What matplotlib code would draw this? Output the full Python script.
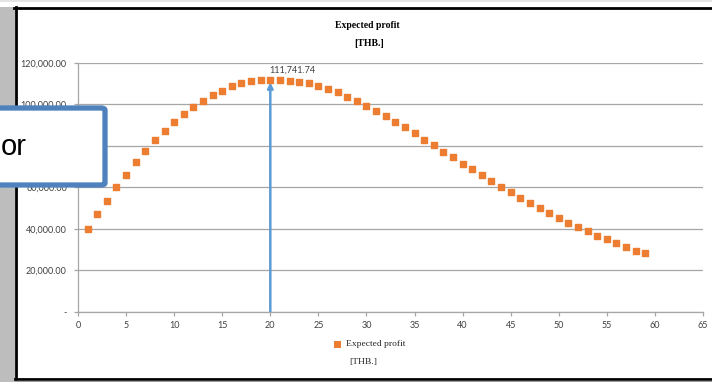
import matplotlib
matplotlib.use("Agg")
import matplotlib.pyplot as plt
from matplotlib.patches import Rectangle, FancyBboxPatch
from matplotlib.lines import Line2D
from matplotlib.ticker import FuncFormatter

# expected profit per order quantity
quantity = list(range(1, 60))
profit = [39800, 47000, 53500, 60000, 66100, 72000, 77500, 82600, 87100, 91400,
          95300, 98600, 101700, 104400, 106600, 108600, 110000, 111000, 111600, 111741.74,
          111600, 111300, 110900, 110000, 109000, 107300, 105700, 103600, 101500, 99100,
          96700, 94300, 91400, 88900, 86200, 82900, 80200, 77200, 74400, 71200,
          68700, 65800, 63100, 60300, 57600, 54900, 52500, 50100, 47700, 45300,
          42900, 40800, 38800, 36800, 35000, 33100, 31300, 29600, 28300]
peak_q = 20
peak_label = "111,741.74"
x_ticks = list(range(0, 70, 5))
y_ticks = [0, 20000, 40000, 60000, 80000, 100000, 120000]

W, H = 712, 382
fig = plt.figure(figsize=(W / 100, H / 100), dpi=100)


def fx(px):
    return px / W


def fy(py):
    return 1 - py / H


# screenshot surroundings
fig.add_artist(Rectangle((0, fy(2)), 1, fy(0) - fy(2), transform=fig.transFigure,
                         color="#e4e4e4", lw=0))
fig.add_artist(Rectangle((0, 0), fx(15), fy(7), transform=fig.transFigure,
                         color="#bdbdbd", lw=0))
fig.add_artist(Line2D([fx(14), 1], [fy(7.5), fy(7.5)], transform=fig.transFigure,
                      color="black", lw=2.0))
fig.add_artist(Line2D([fx(16), fx(16)], [fy(7), fy(379)], transform=fig.transFigure,
                      color="black", lw=2.0))
fig.add_artist(Line2D([fx(15), 1], [fy(378.5), fy(378.5)], transform=fig.transFigure,
                      color="black", lw=2.0))
fig.add_artist(Line2D([fx(15), 1], [fy(381), fy(381)], transform=fig.transFigure,
                      color="#9a9a9a", lw=1.0))

ax = fig.add_axes([fx(78), fy(312), fx(703) - fx(78), fy(62.7) - fy(312)])
ax.scatter(quantity, profit, marker="s", s=17, color="#ed7d31", zorder=3,
           label="Expected profit\n\n[THB.]")

ax.set_xlim(0, 65)
ax.set_ylim(0, 120000)
ax.set_xticks(x_ticks)
ax.set_yticks(y_ticks)
ax.yaxis.set_major_formatter(FuncFormatter(lambda v, p: "-" if v == 0 else f"{v:,.2f}"))
ax.grid(axis="y", color="#a6a6a6", lw=0.9)
ax.set_axisbelow(True)
for s in ["top", "right"]:
    ax.spines[s].set_visible(False)
for s in ["left", "bottom"]:
    ax.spines[s].set_color("#a6a6a6")
    ax.spines[s].set_linewidth(0.9)
ax.tick_params(axis="both", colors="#a6a6a6", labelcolor="#404040", labelsize=6.5,
               length=3, width=0.9)
ax.tick_params(axis="y", pad=5)
for lab in ax.get_xticklabels() + ax.get_yticklabels():
    lab.set_family("Lato")

# peak arrow and label
ax.annotate("", xy=(peak_q, 110500), xytext=(peak_q, 0),
            arrowprops=dict(arrowstyle="-|>", color="#5b9bd5", lw=1.8,
                            mutation_scale=8, shrinkA=0, shrinkB=0), zorder=2)
ax.text(peak_q - 0.1, 114200, peak_label, ha="left", va="bottom", fontsize=6.5,
        color="#404040", family="Lato")

# title
fig.text(fx(367), fy(25), "Expected profit", ha="center", va="center",
         fontsize=7, fontweight="bold", family="Liberation Serif")
fig.text(fx(369), fy(44), "[THB.]", ha="center", va="center",
         fontsize=7, fontweight="bold", family="Liberation Serif")

# legend
fig.add_artist(Rectangle((fx(334), fy(347.5)), fx(7), fy(340.5) - fy(347.5),
                         transform=fig.transFigure, color="#ed7d31", lw=0))
fig.text(fx(346), fy(344), "Expected profit", ha="left", va="center",
         fontsize=6.8, family="Liberation Serif", color="#262626")
fig.text(fx(349), fy(362), "[THB.]", ha="left", va="center",
         fontsize=6.8, family="Liberation Serif", color="#262626")

# overlay callout box
box = FancyBboxPatch((fx(-20), fy(185)), fx(125), fy(108) - fy(185),
                     boxstyle="round,pad=0,rounding_size=0.006",
                     transform=fig.transFigure, facecolor="white",
                     edgecolor="#4f81bd", lw=3.8, zorder=10)
fig.add_artist(box)
fig.text(fx(1), fy(147), "or", ha="left", va="center", fontsize=21,
         family="Liberation Sans", color="black", zorder=11)

fig.savefig("out.png", dpi=100)
